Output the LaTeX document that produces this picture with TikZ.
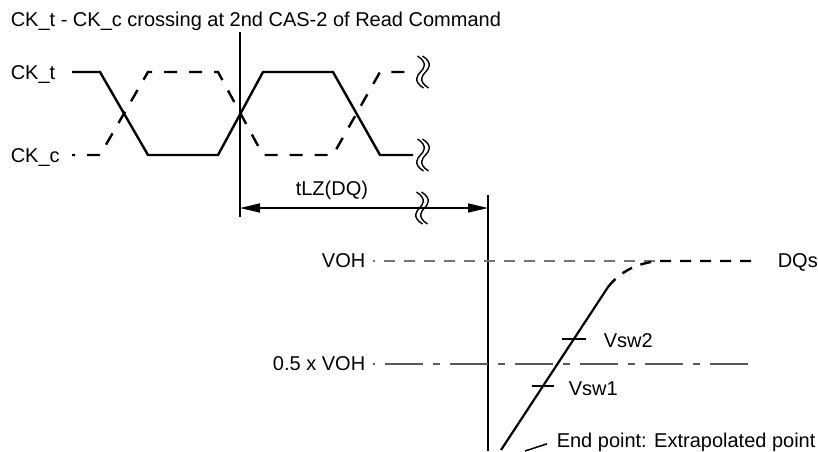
\documentclass[tikz,border=0pt]{standalone}
\usepackage{fontspec}
\setmainfont{Liberation Sans}
\usetikzlibrary{calc,arrows.meta}

% break mark (two wavy strokes) centred at a named coordinate
\newcommand{\brkmark}[1]{%
  \foreach \d in {-2.5,2.5}
    \draw[line width=1.4pt,shift={(#1)}] (\d-3,-16) .. controls (\d+8,-9) and (\d+3,-3) .. (\d,0)
      .. controls (\d-3,3) and (\d-8,9) .. (\d+3,16);}

\begin{document}
\begin{tikzpicture}[x=1pt,y=-1pt,line width=1.5pt,>={Triangle[length=20pt,width=9pt]},
  lbl/.style={inner sep=0pt,font=\fontsize{20}{24}\selectfont},
  wave/.style={line width=2.4pt},
  wdash/.style={wave,dash pattern=on 13pt off 12pt},
  lvl/.style={line width=1.2pt,black!55}]
  \useasboundingbox (0,0) rectangle (818,451);
  % clocks
  \node[lbl,anchor=base west] (title) at (10,26) {CK\_t - CK\_c crossing at 2nd CAS-2 of Read Command};
  \node[lbl,anchor=base west] (ckt) at (10,79) {CK\_t};
  \node[lbl,anchor=base west] (ckc) at (10,162) {CK\_c};
  \draw[wave] (72,72) -- (100,72) -- (148,155) -- (218,155) -- (263,72) -- (333,72) -- (380,155) -- (413,155);
  \draw[wdash,dash phase=10pt] (72,155) -- (100,155) -- (148,72) -- (218,72) -- (263,155) -- (333,155) -- (380,72) -- (413,72);
  \coordinate (brka) at (423,72);
  \coordinate (brkb) at (423,155);
  \brkmark{brka}
  \brkmark{brkb}
  % tLZ
  \coordinate (cktop) at (240,32);
  \coordinate (ckbot) at (240,217);
  \coordinate (dqtop) at (488,195);
  \coordinate (dqbot) at (488,451);
  \draw (cktop) -- (ckbot);
  \draw (dqtop) -- (dqbot);
  \coordinate (lzl) at (240,208);
  \coordinate (lzr) at (488,208);
  \draw[<->] (lzl) -- (lzr);
  \coordinate (brkc) at (422,208);
  \brkmark{brkc}
  \node[lbl,anchor=base west] (tlz) at (295,195) {tLZ(DQ)};
  % levels
  \node[lbl,anchor=base east] (voh) at (366,267) {VOH};
  \node[lbl,anchor=base east] (half) at (366,370) {0.5 x VOH};
  \coordinate (vohl) at (373,261);
  \coordinate (vohr) at (660,261);
  \coordinate (halfl) at (373,364);
  \coordinate (halfr) at (752,364);
  \draw[lvl,dash pattern=on 11pt off 9pt,dash phase=9pt] (vohl) -- (vohr);
  \draw[lvl,black!65,dash pattern=on 7pt off 10pt on 38pt off 10pt,dash phase=5pt] (halfl) -- (halfr);
  % DQ edge
  \coordinate (slo) at (501,450);
  \coordinate (shi) at (608,287);
  \coordinate (dq0) at (657,261);
  \coordinate (dq1) at (757,261);
  \draw[line width=2.2pt] (slo) -- (shi);
  \draw[wave,dash pattern=on 11pt off 9pt] (shi) .. controls (620,272) and (635,264) .. (dq0) -- (dq1);
  \node[lbl,anchor=base west] (dqs) at (777,267) {DQs};
  \coordinate (v2) at ($(slo)!0.681!(shi)$);
  \coordinate (v1) at ($(slo)!0.393!(shi)$);
  \draw (v2) ++(-12,0) -- ++(24,0);
  \draw (v1) ++(-11,0) -- ++(22,0);
  \node[lbl,anchor=base west] (vsw2) at (603,347) {Vsw2};
  \node[lbl,anchor=base west] (vsw1) at (568,395) {Vsw1};
  \node[lbl,anchor=base west] (endpt) at (556,447) {End point: Extrapolated point};
  \coordinate (epl) at (525,451);
  \draw (epl) -- ([xshift=-9pt,yshift=-2pt]endpt.west);
\end{tikzpicture}
\end{document}
